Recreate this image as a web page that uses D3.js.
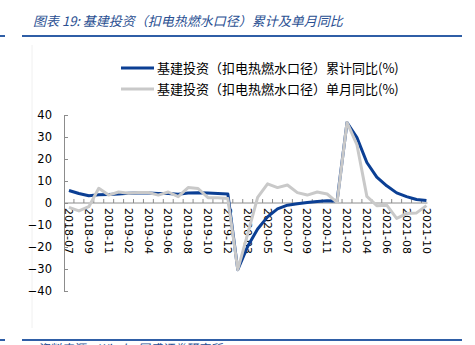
<!DOCTYPE html>
<html><head><meta charset="utf-8">
<script src="https://cdn.jsdelivr.net/npm/d3@7"></script>
<style>body{margin:0;background:#fff}svg{display:block}</style>
</head><body>
<script>
const categories = ["2018-07","2018-08","2018-09","2018-10","2018-11","2018-12",
"2019-02","2019-03","2019-04","2019-05","2019-06","2019-07","2019-08","2019-09","2019-10","2019-11","2019-12",
"2020-02","2020-03","2020-04","2020-05","2020-06","2020-07","2020-08","2020-09","2020-10","2020-11","2020-12",
"2021-02","2021-03","2021-04","2021-05","2021-06","2021-07","2021-08","2021-09","2021-10"];
const cumulative = [5.7,4.3,3.3,3.7,3.9,4.1, 4.4,4.6,4.6,4.3,4.3,4.0,4.5,4.7,4.5,4.3,4.1,
-30.3,-19.7,-11.8,-6.3,-2.7,-1.0,-0.3,0.2,0.7,1.0,0.9,
36.6,29.7,18.4,11.8,7.8,4.6,2.9,1.6,1.1];
const monthly = [-2.0,-3.6,-1.7,6.7,3.6,5.0, 4.4,4.8,4.8,3.6,5.0,2.9,7.0,6.6,2.4,2.4,2.1,
-30.3,-14.0,2.6,8.7,7.0,8.2,4.7,3.6,5.0,4.1,0.3,
36.6,26.5,3.0,-1.2,-1.0,-7.0,-4.8,-4.5,-1.2];
const yTicks = [40,30,20,10,0,-10,-20,-30,-40];
const seriesNames = ["基建投资（扣电热燃水口径）累计同比(%)","基建投资（扣电热燃水口径）单月同比(%)"];
const titleText = "图表 19:  基建投资（扣电热燃水口径）累计及单月同比";
const sourceText = "资料来源：Wind，国盛证券研究所";

const W=475,H=345;
const svg=d3.select("body").append("svg").attr("width",W).attr("height",H);
const blue="#0b3f94", grey="#c9c9c9", axisC="#8c8c8c", hdr="#2f5ea6";

// header / footer
svg.append("rect").attr("x",0).attr("y",35).attr("width",5).attr("height",2).attr("fill",hdr);
svg.append("rect").attr("x",22).attr("y",35).attr("width",440).attr("height",2).attr("fill",hdr);
svg.append("text").attr("x",33).attr("y",26).text(titleText)
  .attr("font-family","'Noto Sans CJK SC'").attr("font-size",13).attr("font-style","italic").attr("fill","#2a4f92");
svg.append("rect").attr("x",0).attr("y",339).attr("width",5).attr("height",2).attr("fill",hdr);
svg.append("rect").attr("x",22).attr("y",339).attr("width",440).attr("height",2).attr("fill",hdr);
svg.append("text").attr("x",37).attr("y",353).text(sourceText)
  .attr("font-family","'Noto Sans CJK SC'").attr("font-size",12).attr("font-style","italic").attr("fill","#2a4f92");
svg.append("line").attr("x1",32).attr("x2",32).attr("y1",45).attr("y2",328).attr("stroke","#f0f0f0");

const x=d3.scaleBand().domain(categories).range([64,64+37*9.93]);
const y=d3.scaleLinear().domain([-40,40]).range([291,115]);
const cx=d=>x(d)+x.bandwidth()/2;

// y axis
const ya=svg.append("g").attr("transform","translate(64,0)")
  .call(d3.axisLeft(y).tickValues(yTicks).tickSize(-4).tickPadding(12).tickFormat(d3.format("d")));
ya.select(".domain").attr("stroke",axisC);
ya.selectAll(".tick line").attr("stroke",axisC);
ya.selectAll("text").attr("font-family","'DejaVu Sans'").attr("font-size",11.5).attr("fill","#000");

// x axis
const xg=svg.append("g");
const x0=y(0);
xg.append("line").attr("x1",64).attr("x2",cx(categories[categories.length-1])+1).attr("y1",x0).attr("y2",x0).attr("stroke",axisC);
xg.selectAll("line.t").data(categories.slice(1)).enter().append("line").attr("class","t")
  .attr("x1",d=>x(d)).attr("x2",d=>x(d)).attr("y1",x0).attr("y2",x0-4).attr("stroke",axisC);
xg.selectAll("text").data(categories.filter((d,i)=>i%2===0)).enter().append("text")
  .attr("transform",d=>`translate(${cx(d)},${x0+5}) rotate(90)`)
  .attr("dy","0.35em").attr("text-anchor","start")
  .attr("font-family","'DejaVu Sans'").attr("font-size",11).attr("fill","#000").text(d=>d);

// lines
const line=d3.line().x((d,i)=>cx(categories[i])).y(d=>y(d));
svg.append("path").datum(cumulative).attr("d",line).attr("fill","none").attr("stroke",blue).attr("stroke-width",3).attr("stroke-linejoin","round");
svg.append("path").datum(monthly).attr("d",line).attr("fill","none").attr("stroke",grey).attr("stroke-width",3).attr("stroke-linejoin","round");

// legend
const lg=svg.append("g");
[[blue,68],[grey,89]].forEach((c,i)=>{
  lg.append("line").attr("x1",121).attr("x2",154).attr("y1",c[1]).attr("y2",c[1]).attr("stroke",c[0]).attr("stroke-width",3);
  lg.append("text").attr("x",157).attr("y",c[1]).attr("dy","0.36em").text(seriesNames[i])
    .attr("font-family","'Noto Sans CJK SC'").attr("font-size",13).attr("fill","#000");
});
</script>
</body></html>
